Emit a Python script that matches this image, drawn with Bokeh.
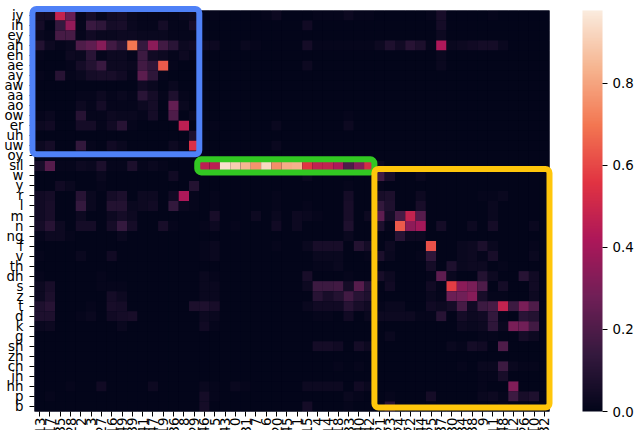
import numpy as np
from bokeh.embed import file_html
from bokeh.resources import INLINE
from bokeh.plotting import figure
from bokeh.models import (BoxAnnotation, ColorBar, ColumnDataSource, FixedTicker,
                          LinearColorMapper, PrintfTickFormatter, Range1d)

COLUMNS = [13, 17, 35, 28, 2, 3, 27, 16, 49, 39, 41, 47, 19, 36, 8, 29,
           46, 5, 43, 0, 31, 7, 6, 20, 45, 1, 15, 4, 14, 18, 33, 40, 42,
           21, 23, 24, 22, 44, 25, 37, 30, 34, 38, 9, 11, 48, 12, 26, 10, 32]
PHONES = ["iy", "ih", "ey", "ah", "eh", "ae", "ay", "aw", "aa", "ao", "ow", "er", "uh", "uw", "oy",
          "sil", "w", "y", "r", "l", "m", "n", "ng", "f", "v", "th", "dh", "s", "z", "t", "d", "k",
          "g", "sh", "zh", "ch", "jh", "hh", "p", "b"]

# Cell values in hundredths; each row: first 16 columns, next 17, last 17
iy = [5,5,48,26,1,5,1,4,5,2,1,1,1,1,2,3, 0,1,0,0,0,0,1,3,0,0,0,1,1,1,3,1,1, 0,0,0,0,0,1,6,0,0,0,0,1,0,0,0,0,0]
ih = [5,0,14,36,1,15,12,5,6,2,1,1,5,1,1,6, 0,0,0,0,0,0,0,0,0,0,4,0,0,0,0,0,0, 0,0,0,0,0,0,5,0,0,0,0,0,0,0,0,0,0]
ey = [2,1,18,18,1,4,2,2,3,3,2,2,2,1,1,1, 0,0,0,0,0,0,0,0,0,0,0,0,0,0,0,0,0, 0,0,0,0,0,0,3,0,0,0,0,0,0,0,0,0,0]
ah = [9,3,1,2,20,24,33,17,11,70,14,34,17,11,3,4, 3,3,0,0,2,1,0,0,0,0,5,1,1,1,1,1,1, 3,8,4,10,7,1,42,2,3,4,5,5,2,0,0,0,0]
eh = [1,0,0,3,2,11,1,3,3,1,16,4,3,1,3,1, 0,0,0,0,0,0,0,0,0,0,0,0,0,0,0,0,0, 0,0,0,0,0,0,2,0,0,0,0,0,0,0,0,0,0]
ae = [0,0,0,1,5,9,15,3,3,2,17,12,64,1,0,0, 0,0,0,0,0,0,0,0,0,0,3,0,0,0,0,0,0, 0,0,0,0,0,0,2,0,0,0,0,0,0,0,0,0,0]
ay = [1,0,10,1,2,5,6,6,4,1,23,12,1,0,0,0, 0,0,0,0,0,0,0,0,0,0,0,0,0,0,0,0,0, 0,0,0,0,0,0,0,0,0,0,0,0,0,0,0,0,0]
aw = [0,0,0,0,0,0,0,0,0,0,4,2,0,2,0,0, 0,0,0,0,0,0,0,0,0,0,0,0,0,0,0,0,0, 0,0,0,0,0,0,0,0,0,0,0,0,0,0,0,0,0]
aa = [0,0,0,0,1,1,3,1,2,1,11,5,1,8,1,0, 0,0,0,0,0,0,0,0,0,0,0,0,0,0,0,0,0, 0,0,0,0,0,0,0,0,0,0,0,0,0,0,0,0,0]
ao = [0,0,0,0,3,1,5,1,1,1,3,5,0,25,2,0, 0,0,0,0,0,0,0,0,0,0,0,0,0,0,0,0,0, 0,0,0,0,0,0,0,0,0,0,0,0,0,0,0,0,0]
ow = [1,2,0,0,10,1,1,3,2,2,1,5,0,20,0,2, 0,0,0,0,0,0,0,0,0,0,0,0,0,0,1,0,0, 0,0,0,0,0,0,0,0,0,0,0,0,0,0,0,0,0]
er = [3,4,0,0,5,5,1,4,10,1,0,0,0,0,46,0, 0,1,0,0,0,0,0,2,0,0,0,0,0,0,3,0,0, 0,0,0,0,0,0,0,0,0,0,0,0,0,0,0,0,0]
uh = [0,0,0,0,0,0,0,0,0,0,0,0,0,0,0,8, 0,0,0,0,0,0,0,0,0,0,0,0,0,0,0,0,0, 0,0,0,0,0,0,0,0,0,0,0,0,0,0,0,0,0]
uw = [3,5,0,0,13,1,0,4,2,0,0,0,0,3,1,54, 0,0,0,0,0,0,0,2,0,0,0,0,0,0,0,0,0, 0,0,0,0,0,0,0,0,0,0,0,0,0,0,0,0,0]
oy = [0,0,0,0,0,0,0,0,0,0,0,0,0,0,0,0, 0,0,0,0,0,0,0,0,0,0,0,0,0,0,0,0,0, 0,0,0,0,0,0,0,0,0,0,0,0,0,0,0,0,0]
sil = [6,22,1,1,3,2,7,1,1,7,1,2,1,0,0,0, 46,46,95,90,84,76,93,75,82,83,56,47,47,42,20,33,52, 3,0,0,0,0,0,0,0,0,0,0,0,0,0,0,0,0]
w = [0,0,0,0,0,0,2,0,0,0,0,0,0,4,0,0, 0,0,0,0,0,0,0,0,0,0,2,0,0,0,0,0,0, 17,6,0,0,2,0,0,0,0,0,0,0,0,0,0,0,0]
y = [0,0,4,2,0,0,1,0,0,0,0,0,0,0,0,9, 0,0,0,0,0,0,0,0,0,0,0,0,0,0,1,0,0, 1,0,0,0,0,0,0,0,0,0,0,0,0,0,0,0,0]
r = [4,5,0,0,10,2,0,5,7,0,3,3,0,4,42,1, 0,1,0,0,0,0,0,1,0,0,0,0,0,0,5,0,0, 6,7,0,0,3,0,0,0,0,0,1,1,2,0,0,0,0]
l = [4,6,0,0,14,2,0,9,9,2,3,4,0,13,2,1, 0,1,0,0,0,0,0,1,0,0,1,0,0,0,6,0,0, 13,8,0,0,6,0,0,0,0,0,0,2,0,0,0,0,0]
m = [4,6,0,0,3,0,0,3,5,3,0,0,0,0,0,0, 0,6,0,0,0,3,0,2,0,3,2,1,0,0,6,0,3, 24,5,18,48,22,0,0,0,0,0,0,2,0,0,0,0,0]
n = [5,10,3,0,5,5,0,5,14,5,0,0,6,1,0,0, 1,3,0,1,0,0,0,4,0,3,0,0,0,0,8,0,0, 8,1,64,35,40,0,5,0,0,3,0,5,0,0,0,2,0]
ng = [1,3,3,1,0,0,0,0,2,0,0,0,0,0,0,0, 0,0,0,0,0,0,0,0,0,0,0,0,0,0,2,0,0, 0,0,10,3,3,0,0,0,0,0,0,0,0,0,0,0,0]
f = [0,0,0,0,0,0,0,0,0,0,0,0,0,0,0,0, 1,2,0,0,0,0,0,1,0,0,2,6,6,6,0,9,5, 0,3,0,0,0,62,0,0,2,3,7,2,0,0,0,1,0]
v = [1,0,0,0,2,0,0,4,0,0,0,0,0,0,0,0, 1,2,0,0,0,0,0,0,0,0,0,2,2,2,0,0,1, 7,2,0,0,1,12,0,0,2,3,1,6,0,0,0,2,0]
th = [0,0,0,0,0,0,0,0,0,0,0,0,0,0,0,0, 0,0,0,0,0,0,0,0,0,0,0,1,1,2,0,0,0, 0,0,0,0,0,5,0,8,2,3,3,0,1,0,0,0,0]
dh = [1,0,0,0,0,0,1,0,0,0,0,0,0,0,0,0, 2,1,0,0,0,0,0,0,0,0,6,0,0,0,1,0,0, 6,3,0,0,0,1,24,2,0,0,9,3,0,0,10,4,0]
s = [3,6,0,0,0,0,1,1,1,0,0,0,0,0,0,0, 2,2,0,0,0,0,0,0,0,0,3,16,16,17,5,22,10, 0,4,0,0,0,4,1,58,34,30,20,0,5,0,0,4,0]
z = [3,7,0,0,0,0,0,5,3,0,0,0,0,0,0,0, 2,2,0,0,0,0,0,0,0,0,0,10,6,9,17,10,8, 0,0,0,0,0,2,1,27,28,33,6,1,1,0,0,3,0]
t = [8,10,0,0,0,1,0,6,5,0,0,0,0,0,0,7, 8,6,0,0,0,0,0,0,0,0,2,4,4,4,10,6,4, 1,2,2,0,0,4,3,5,18,4,16,18,48,16,30,20,0]
d = [8,8,0,0,1,2,0,4,5,6,0,0,0,0,0,0, 3,2,0,0,0,0,0,0,0,0,0,1,1,0,4,0,2, 3,3,3,3,1,1,10,0,5,3,4,13,1,0,11,9,0]
k = [2,3,0,0,0,0,0,0,2,0,0,0,0,0,0,0, 4,1,0,0,0,0,0,0,0,0,0,0,0,0,0,0,0, 0,0,0,0,0,0,0,0,3,2,3,12,2,30,28,17,0]
g = [0,0,0,0,0,0,0,0,0,0,0,0,0,0,0,0, 0,0,0,0,0,0,0,0,0,0,0,0,0,0,0,0,0, 0,2,0,0,0,0,0,0,0,0,1,1,0,0,5,3,0]
sh = [0,0,0,0,0,0,0,0,0,0,0,0,0,0,0,0, 0,0,0,0,0,0,0,0,0,0,0,5,5,4,0,5,3, 0,0,0,0,0,0,0,2,1,5,4,0,20,0,0,0,0]
zh = [0,0,0,0,0,0,0,0,0,0,0,0,0,0,0,0, 0,0,0,0,0,0,0,0,0,0,0,0,0,0,0,0,0, 0,0,0,0,0,0,0,0,0,0,0,0,0,0,0,0,0]
ch = [0,0,0,0,0,0,0,0,0,0,0,0,0,0,0,0, 0,0,0,0,0,0,0,0,0,0,0,0,0,1,0,1,0, 0,0,0,0,0,0,0,0,1,0,2,2,16,2,1,1,0]
jh = [0,0,0,0,0,0,0,0,0,0,0,0,0,0,0,0, 0,0,0,0,0,0,0,0,0,0,0,0,0,0,0,0,0, 0,0,0,0,0,0,0,0,0,0,1,1,6,0,0,0,0]
hh = [0,0,0,1,0,0,4,0,0,0,0,3,0,0,0,0, 2,1,0,2,1,0,0,0,0,0,3,3,3,3,0,4,2, 0,0,0,0,0,0,0,0,0,0,1,0,0,32,0,0,0]
p_ = [0,1,0,0,0,0,0,0,0,0,0,0,0,0,0,0, 5,1,0,0,0,0,0,0,0,0,0,0,0,0,2,1,0, 0,1,0,0,0,5,0,0,0,0,2,3,1,16,6,8,0]
b = [0,0,0,0,0,0,0,0,0,0,0,0,0,0,0,0, 5,0,0,0,0,0,0,0,0,0,5,0,0,0,1,0,0, 0,10,0,0,0,0,0,0,0,0,0,0,1,0,0,0,0]

ROWS = [iy, ih, ey, ah, eh, ae, ay, aw, aa, ao, ow, er, uh, uw, oy, sil, w, y, r, l, m, n, ng,
        f, v, th, dh, s, z, t, d, k, g, sh, zh, ch, jh, hh, p_, b]
VMAX = 0.977
CBAR_TICKS = [0.0, 0.2, 0.4, 0.6, 0.8]

# rocket colour map, from its known stops
STOPS = ["#03051a", "#35193e", "#701f57", "#ad1759", "#e13342", "#f37651", "#f6b48f", "#faebdd"]
rgb = np.array([[int(c[i:i + 2], 16) for i in (1, 3, 5)] for c in STOPS], float)
tt = np.linspace(0, 1, 256)
pos = np.linspace(0, 1, len(STOPS))
palette = ["#%02x%02x%02x" % tuple(int(round(np.interp(v, pos, rgb[:, k]))) for k in range(3)) for v in tt]
mapper = LinearColorMapper(palette=palette, low=0, high=VMAX)

xs, ys, vals = [], [], []
for ri, row in enumerate(ROWS):
    assert len(row) == 50, ri
    for ci, v in enumerate(row):
        xs.append(ci + 0.5)
        ys.append(ri + 0.5)
        vals.append(v / 100)
src = ColumnDataSource(dict(x=xs, y=ys, v=vals))

# The frame fills the picture, so the axes sit inside it at the grid's edges and nothing is clipped
WIDTH, HEIGHT = 635, 430
LEFT_PX, RIGHT_PX, TOP_PX, BOTTOM_PX = 34, 549, 10, 411
ux = (RIGHT_PX - LEFT_PX) / len(COLUMNS)
uy = (BOTTOM_PX - TOP_PX) / len(PHONES)
fig = figure(width=WIDTH, height=HEIGHT,
             x_range=Range1d(-LEFT_PX / ux, (WIDTH - LEFT_PX) / ux),
             y_range=Range1d((HEIGHT - TOP_PX) / uy, -TOP_PX / uy),
             output_backend="svg", toolbar_location=None,
             min_border_left=0, min_border_top=0, min_border_right=0, min_border_bottom=0,
             outline_line_color=None, background_fill_color="#ffffff")
fig.grid.visible = False
fig.quad(left=[0], right=[len(COLUMNS)], top=[0], bottom=[len(PHONES)], fill_color=palette[0], line_color=None)
col = {"field": "v", "transform": mapper}
fig.rect("x", "y", 1, 1, source=src, fill_color=col, line_color=None)

FONT = "DejaVu Sans"
fig.xaxis.ticker = FixedTicker(ticks=[i + 0.5 for i in range(50)])
fig.xaxis.major_label_overrides = {i + 0.5: str(c) for i, c in enumerate(COLUMNS)}
fig.xaxis.major_label_orientation = np.pi / 2
fig.xaxis.major_label_standoff = 1
fig.xaxis.fixed_location = len(PHONES)
fig.yaxis.ticker = FixedTicker(ticks=[i + 0.5 for i in range(40)])
fig.yaxis.major_label_overrides = {i + 0.5: s for i, s in enumerate(PHONES)}
fig.yaxis.major_label_standoff = 6
fig.yaxis.fixed_location = 0
for ax in (fig.xaxis[0], fig.yaxis[0]):
    ax.major_tick_out = 5
    ax.major_tick_in = 0
    ax.minor_tick_out = 0
    ax.minor_tick_in = 0
    ax.axis_line_color = None
    ax.major_tick_line_color = "#000000"
    ax.major_label_text_font = FONT
    ax.major_label_text_font_size = "13.33px"
    ax.major_label_text_color = "#000000"

cb = ColorBar(color_mapper=mapper, width=20, height=BOTTOM_PX - TOP_PX,
              location=(582, HEIGHT - BOTTOM_PX), padding=0, margin=0,
              ticker=FixedTicker(ticks=CBAR_TICKS), formatter=PrintfTickFormatter(format="%.1f"),
              major_tick_in=0, major_tick_out=5, major_tick_line_color="#000000",
              minor_tick_line_color=None, bar_line_color=None, border_line_color=None,
              background_fill_color=None, label_standoff=5,
              major_label_text_font=FONT, major_label_text_font_size="13.33px",
              major_label_text_color="#000000")
fig.add_layout(cb, "center")

# Highlight frames: (left, right, top, bottom, colour), in cell units
FRAMES = [(15.8, 33.0, 14.85, 16.15, "#32c822"),
          (-0.2, 16.0, -0.15, 14.35, "#4f81f7"),
          (33.0, 50.0, 15.8, 39.6, "#ffc60b")]
for lf, rt, tp, bt, colour in FRAMES:
    fig.add_layout(BoxAnnotation(left=lf, right=rt, top=tp, bottom=bt, fill_alpha=0,
                                 line_color=colour, line_width=6, line_alpha=1,
                                 border_radius=4, editable=False))

open("out.html", "w").write(file_html(fig, INLINE))
